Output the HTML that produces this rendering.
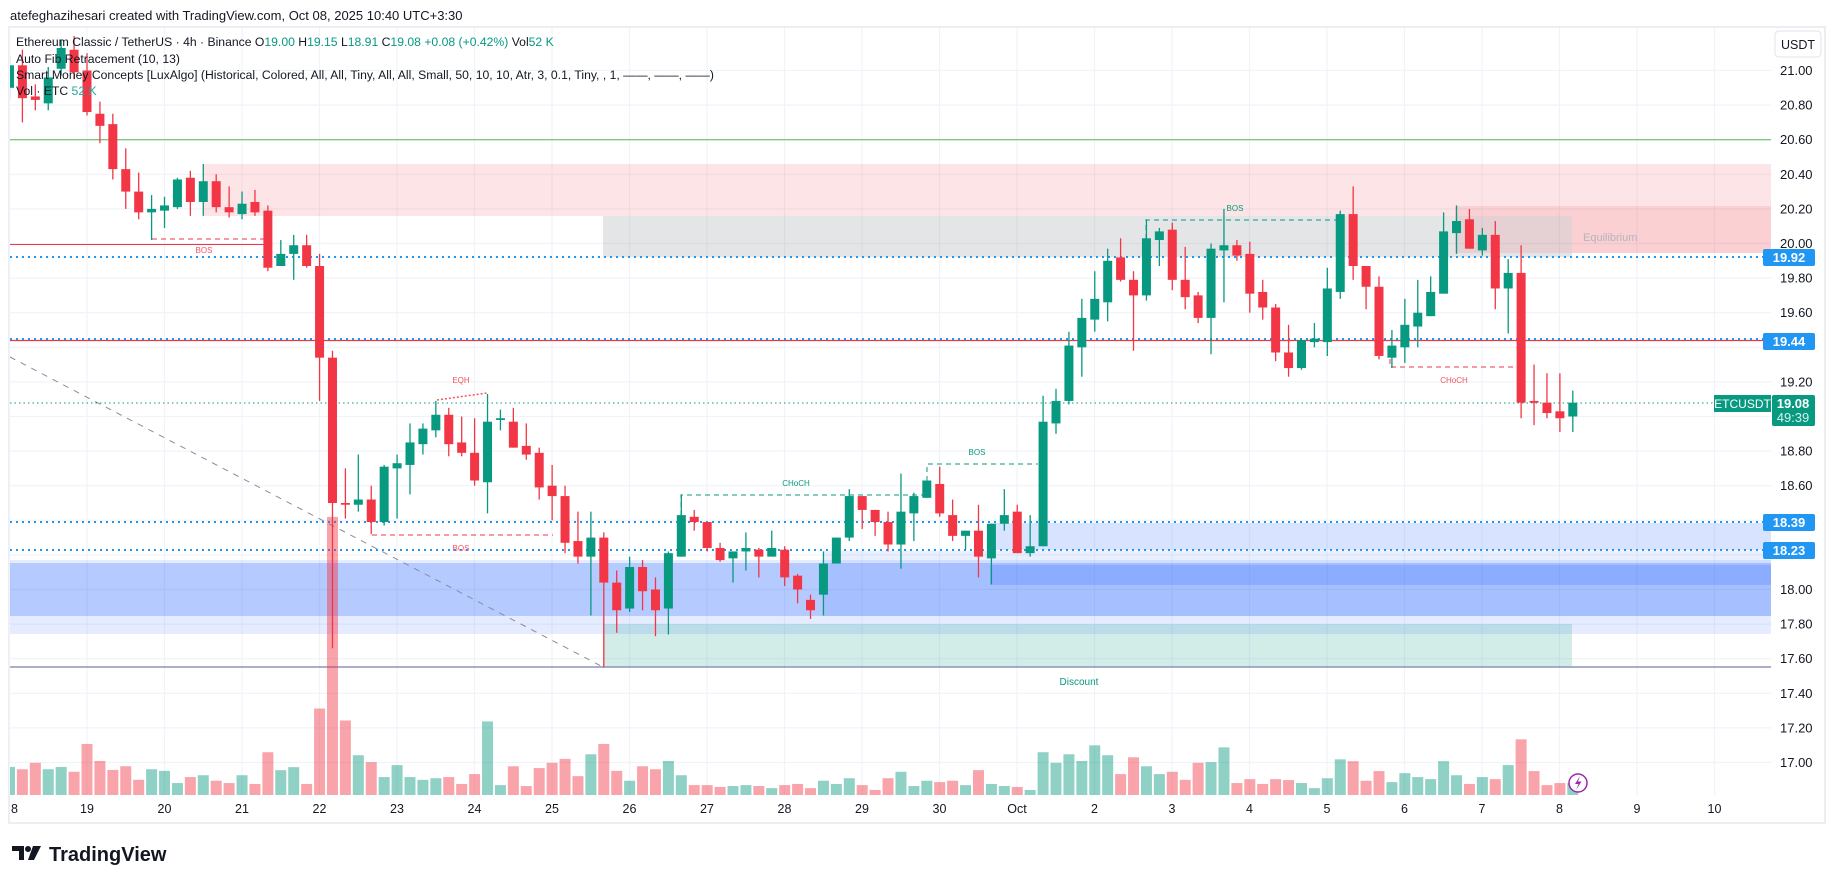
<!DOCTYPE html>
<html><head><meta charset="utf-8"><style>
body{margin:0;background:#fff;width:1835px;height:883px;overflow:hidden;font-family:"Liberation Sans",sans-serif;}
svg{display:block}
text{font-family:"Liberation Sans",sans-serif;}
</style></head><body>
<svg id="chart" width="1835" height="883" viewBox="0 0 1835 883" xmlns="http://www.w3.org/2000/svg">
<defs><clipPath id="plot"><rect x="10" y="28" width="1761" height="767"/></clipPath></defs>
<rect x="0" y="0" width="1835" height="883" fill="#fff"/>
<text x="10" y="20" font-size="13" fill="#131722">atefeghazihesari created with TradingView.com, Oct 08, 2025 10:40 UTC+3:30</text>
<rect x="9" y="27" width="1816" height="796" fill="none" stroke="#eceef2" stroke-width="2"/>
<g id="grid"></g>
<g clip-path="url(#plot)" id="overlays">
  <rect x="203" y="164" width="1568" height="52" fill="rgba(242,54,69,0.13)"/>
  <rect x="603" y="216" width="969" height="41" fill="rgba(120,123,134,0.2)"/>
  <rect x="1572" y="216" width="199" height="37" fill="rgba(242,54,69,0.13)"/>
  <rect x="1455" y="206" width="316" height="47" fill="rgba(242,54,69,0.12)"/>
  <text x="1583" y="241" font-size="11" fill="#b2b5be">Equilibrium</text>
  <line x1="10" y1="139.7" x2="1771" y2="139.7" stroke="#81c784" stroke-width="1.3"/>
  <rect x="603" y="624" width="969" height="43" fill="rgba(8,153,129,0.18)"/>
  <text x="1079" y="685" font-size="10" fill="#089981" text-anchor="middle">Discount</text>
  <rect x="10" y="560" width="1761" height="74" fill="rgba(41,98,255,0.12)"/>
  <rect x="10" y="563" width="1761" height="53" fill="rgba(41,98,255,0.25)"/>
  <rect x="823" y="551" width="948" height="65" fill="rgba(41,98,255,0.1)"/>
  <rect x="990" y="523" width="781" height="27" fill="rgba(41,98,255,0.18)"/>
  <rect x="990" y="565" width="781" height="20" fill="rgba(41,98,255,0.2)"/>
  <line x1="10" y1="667" x2="1771" y2="667" stroke="#8f93b8" stroke-width="1.5"/>
  <line x1="10" y1="357" x2="603" y2="667" stroke="#8a8d96" stroke-width="1" stroke-dasharray="6,6"/>
  <line x1="10" y1="244.5" x2="264" y2="244.5" stroke="#f23645" stroke-width="1"/>
  <line x1="152" y1="239" x2="264" y2="239" stroke="#f23645" stroke-width="1" stroke-dasharray="5,4"/>
  <text x="204" y="253" font-size="8" fill="#f7525f" text-anchor="middle">BOS</text>
  <line x1="10" y1="340.5" x2="1771" y2="340.5" stroke="#f23645" stroke-width="1.2"/>
  <line x1="10" y1="339" x2="1771" y2="339" stroke="#2196f3" stroke-width="2" stroke-dasharray="2,4"/>
  <line x1="10" y1="257" x2="1771" y2="257" stroke="#2196f3" stroke-width="2" stroke-dasharray="2,4"/>
  <line x1="10" y1="522" x2="1771" y2="522" stroke="#2196f3" stroke-width="2" stroke-dasharray="2,4"/>
  <line x1="10" y1="550" x2="1771" y2="550" stroke="#2196f3" stroke-width="2" stroke-dasharray="2,4"/>
  <line x1="10" y1="403" x2="1771" y2="403" stroke="#089981" stroke-width="1" stroke-dasharray="1.5,3"/>
  <line x1="437" y1="400" x2="487" y2="393" stroke="#f7525f" stroke-width="1.5" stroke-dasharray="2,2"/>
  <text x="461" y="383" font-size="8" fill="#f7525f" text-anchor="middle">EQH</text>
  <line x1="372" y1="535" x2="553" y2="535" stroke="#f23645" stroke-width="1" stroke-dasharray="5,4"/>
  <text x="461" y="551" font-size="8" fill="#f7525f" text-anchor="middle">BOS</text>
  <polyline points="681,516 681,495 927,495" fill="none" stroke="#089981" stroke-width="1" stroke-dasharray="5,4"/>
  <text x="796" y="486" font-size="8" fill="#089981" text-anchor="middle">CHoCH</text>
  <polyline points="927,481 927,464 1038,464" fill="none" stroke="#089981" stroke-width="1" stroke-dasharray="5,4"/>
  <text x="977" y="455" font-size="8" fill="#089981" text-anchor="middle">BOS</text>
  <polyline points="1146,239 1146,220 1336,220" fill="none" stroke="#089981" stroke-width="1" stroke-dasharray="5,4"/>
  <text x="1235" y="211" font-size="8" fill="#089981" text-anchor="middle">BOS</text>
  <polyline points="1390,359 1390,367 1519,367" fill="none" stroke="#f23645" stroke-width="1" stroke-dasharray="5,4"/>
  <text x="1454" y="383" font-size="8" fill="#f7525f" text-anchor="middle">CHoCH</text>
  <g id="volumes"></g>
  <g id="candles"></g>
</g>
<g font-size="12.2" fill="#131722">
  <text x="16" y="46">Ethereum Classic / TetherUS · 4h · Binance  O<tspan fill="#089981">19.00</tspan>  H<tspan fill="#089981">19.15</tspan>  L<tspan fill="#089981">18.91</tspan>  C<tspan fill="#089981">19.08</tspan>  <tspan fill="#089981">+0.08 (+0.42%)</tspan>  Vol<tspan fill="#089981">52 K</tspan></text>
  <text x="16" y="63">Auto Fib Retracement (10, 13)</text>
  <text x="16" y="79">Smart Money Concepts [LuxAlgo] (Historical, Colored, All, All, Tiny, All, All, Small, 50, 10, 10, Atr, 3, 0.1, Tiny, , 1, ——, ——, ——)</text>
  <text x="16" y="95">Vol · ETC  <tspan fill="#26a69a">52 K</tspan></text>
</g>
<g id="yaxis"></g>
<rect x="1775" y="31" width="46" height="26" rx="4" fill="#fff" stroke="#e0e3eb"/>
<text x="1798" y="49" font-size="12.5" fill="#131722" text-anchor="middle">USDT</text>
<g font-size="13" font-weight="bold" fill="#fff">
  <rect x="1763" y="249" width="52" height="17" rx="2" fill="#2196f3"/><text x="1789" y="262" text-anchor="middle">19.92</text>
  <rect x="1763" y="333" width="52" height="17" rx="2" fill="#2196f3"/><text x="1789" y="346" text-anchor="middle">19.44</text>
  <rect x="1763" y="514" width="52" height="17" rx="2" fill="#2196f3"/><text x="1789" y="527" text-anchor="middle">18.39</text>
  <rect x="1763" y="542" width="52" height="17" rx="2" fill="#2196f3"/><text x="1789" y="555" text-anchor="middle">18.23</text>
  <rect x="1714" y="395" width="57" height="17" fill="#089981"/><text x="1742.5" y="408" text-anchor="middle" font-weight="normal" font-size="12">ETCUSDT</text>
  <rect x="1772" y="395" width="43" height="31" rx="2" fill="#089981"/><text x="1793" y="408" text-anchor="middle">19.08</text><text x="1793" y="422" text-anchor="middle" font-weight="normal" fill="#d6f0ea">49:39</text>
</g>
<g id="xaxis"></g>
<g><circle cx="1578" cy="783" r="9" fill="#fff" stroke="#9c27b0" stroke-width="1.5"/><path d="M1580 776 L1575 784 L1578.5 784 L1576 790 L1581.5 781.5 L1578 781.5 Z" fill="#9c27b0"/></g>
<g>
  <path d="M12 846 H24 V860 H19 V851 H12 Z" fill="#131722"/><circle cx="28" cy="849" r="3" fill="#131722"/><path d="M33 846 H41 L34 860 H28 Z" fill="#131722"/>
  <text x="49" y="861" font-size="20" font-weight="bold" fill="#131722">TradingView</text>
</g>
</svg>
<script>
const opens=[20.90,21.03,20.85,20.81,21.01,21.12,21.00,20.75,20.69,20.43,20.30,20.18,20.19,20.21,20.38,20.24,20.36,20.21,20.17,20.24,20.19,19.87,19.94,19.99,19.87,19.34,18.50,18.49,18.52,18.39,18.70,18.72,18.84,18.92,19.01,18.85,18.79,18.62,18.98,18.97,18.83,18.79,18.60,18.54,18.28,18.19,18.30,18.04,17.89,18.13,18.00,17.89,18.19,18.42,18.39,18.24,18.18,18.22,18.23,18.19,18.23,18.08,17.94,17.97,18.15,18.30,18.54,18.46,18.39,18.26,18.44,18.53,18.61,18.43,18.31,18.34,18.18,18.38,18.45,18.21,18.25,18.96,19.09,19.40,19.56,19.66,19.92,19.79,19.70,20.02,20.08,19.79,19.70,19.57,19.96,19.99,19.94,19.72,19.63,19.37,19.28,19.43,19.43,19.72,20.17,19.87,19.75,19.34,19.40,19.52,19.58,19.71,20.06,20.14,19.96,20.05,19.74,19.83,19.09,19.08,19.03,19.00];
const highs=[21.08,21.12,20.92,21.02,21.18,21.20,21.10,20.82,20.75,20.55,20.41,20.28,20.27,20.38,20.42,20.46,20.40,20.33,20.30,20.31,20.22,20.02,20.05,20.05,19.94,19.38,18.70,18.78,18.60,18.72,18.78,18.96,18.96,19.09,19.05,19.00,18.99,19.13,19.04,19.05,18.96,18.82,18.72,18.60,18.45,18.45,18.33,18.11,18.19,18.17,18.07,18.22,18.55,18.46,18.39,18.27,18.22,18.33,18.24,18.34,18.25,18.09,17.97,18.22,18.30,18.58,18.54,18.46,18.45,18.67,18.56,18.63,18.71,18.52,18.34,18.49,18.38,18.58,18.49,18.43,19.12,19.16,19.49,19.68,19.84,19.97,20.03,19.84,20.14,20.09,20.12,19.98,19.72,20.00,20.20,20.02,20.01,19.79,19.65,19.53,19.45,19.54,19.86,20.19,20.33,19.87,19.81,19.50,19.68,19.79,19.81,20.18,20.22,20.20,20.09,20.13,19.91,19.99,19.30,19.25,19.25,19.15];
const lows=[20.83,20.70,20.77,20.77,20.97,20.95,20.74,20.58,20.37,20.20,20.14,20.02,20.09,20.20,20.16,20.16,20.18,20.15,20.14,20.16,19.84,19.87,19.79,19.86,19.09,17.66,18.41,18.45,18.32,18.37,18.41,18.55,18.78,18.88,18.77,18.77,18.60,18.44,18.92,18.82,18.75,18.52,18.40,18.21,18.15,17.85,17.55,17.75,17.87,17.88,17.73,17.74,18.19,18.34,18.22,18.16,18.04,18.11,18.07,18.19,18.02,17.92,17.83,17.85,18.15,18.28,18.35,18.31,18.22,18.12,18.28,18.53,18.42,18.28,18.23,18.07,18.03,18.34,18.21,18.19,18.25,18.90,19.07,19.23,19.49,19.55,19.78,19.38,19.67,19.87,19.73,19.62,19.54,19.36,19.66,19.90,19.60,19.56,19.32,19.23,19.27,19.40,19.35,19.68,19.79,19.62,19.33,19.28,19.31,19.40,19.58,19.71,19.94,19.97,19.93,19.62,19.48,18.99,18.95,18.99,18.91,18.91];
const closes=[21.03,20.84,20.83,20.96,21.13,20.99,20.76,20.68,20.43,20.30,20.18,20.20,20.22,20.37,20.24,20.36,20.21,20.18,20.23,20.18,19.86,19.94,19.99,19.87,19.34,18.50,18.49,18.52,18.39,18.71,18.73,18.85,18.93,19.01,18.84,18.79,18.63,18.97,18.99,18.82,18.78,18.59,18.54,18.27,18.19,18.30,18.04,17.88,18.13,17.99,17.88,18.21,18.43,18.39,18.24,18.17,18.22,18.24,18.19,18.24,18.07,18.00,17.88,18.15,18.30,18.54,18.46,18.39,18.26,18.45,18.54,18.63,18.44,18.31,18.34,18.19,18.38,18.43,18.21,18.25,18.97,19.09,19.41,19.57,19.68,19.90,19.79,19.70,20.03,20.07,19.79,19.69,19.57,19.97,19.99,19.93,19.71,19.63,19.37,19.28,19.44,19.45,19.74,20.17,19.87,19.75,19.35,19.41,19.53,19.60,19.72,20.07,20.13,19.97,20.05,19.74,19.83,19.08,19.08,19.02,18.99,19.08];
const volumes=[122,112,140,112,122,101,222,148,109,125,66,112,105,52,78,86,62,52,86,48,186,108,121,48,376,1209,324,173,143,78,130,78,66,73,78,48,91,320,43,125,39,117,140,157,82,177,222,105,62,125,112,148,86,43,43,35,39,43,39,30,43,48,30,62,48,73,43,22,73,101,39,62,56,62,43,108,48,39,35,22,186,140,177,148,216,173,91,164,125,91,101,66,140,143,207,52,69,48,69,65,52,30,73,155,147,62,104,56,95,78,69,147,86,48,78,69,130,242,104,43,52,52];
const firstIndex=-6;
const priceTicks=[21.00,20.80,20.60,20.40,20.20,20.00,19.80,19.60,19.20,18.80,18.60,18.00,17.80,17.60,17.40,17.20,17.00];
const gridPrices=[21.00,20.80,20.60,20.40,20.20,20.00,19.80,19.60,19.40,19.20,19.00,18.80,18.60,18.40,18.20,18.00,17.80,17.60,17.40,17.20,17.00];
const dayLabels=["8","19","20","21","22","23","24","25","26","27","28","29","30","Oct","2","3","4","5","6","7","8","9","10"];
const dayOffsets=[-1,0,1,2,3,4,5,6,7,8,9,10,11,12,13,14,15,16,17,18,19,20,21];

const NS="http://www.w3.org/2000/svg";
const X0=87, CW=12.92, DAYW=77.5;
function xScale(k){return X0+CW*k;}
function yScale(p){return 243.5+(20-p)*173;}
function vScale(v){return v*0.23;}
const VBASE=795;
function mk(tag,attrs,parent){const e=document.createElementNS(NS,tag);for(const k in attrs)e.setAttribute(k,attrs[k]);parent.appendChild(e);return e;}

const grid=document.getElementById('grid');
gridPrices.forEach(p=>{
  const l=mk('line',{x1:10,x2:1771,y1:yScale(p),y2:yScale(p),stroke:'#f0f3fa','stroke-width':1.2},grid);
  
  
});
dayOffsets.forEach(d=>{
  const x=X0+DAYW*d;
  const l=mk('line',{x1:x,x2:x,y1:28,y2:795,stroke:'#f0f3fa','stroke-width':1.2},grid);
  
  
});

const vg=document.getElementById('volumes');
volumes.forEach((v,i)=>{
  const k=i+firstIndex, up=closes[i]>=opens[i];
  const h=vScale(v);
  const r=mk('rect',{x:xScale(k)-5.5,y:VBASE-h,width:11,height:h,fill:up?'rgba(8,153,129,0.45)':'rgba(242,54,69,0.45)'},vg);
  
  
});

const cg=document.getElementById('candles');
opens.forEach((o,i)=>{
  const k=i+firstIndex, c=closes[i], up=c>=o, col=up?'#089981':'#f23645', x=xScale(k);
  const g=mk('g',{},cg);
  
  
  mk('line',{x1:x,x2:x,y1:yScale(highs[i]),y2:yScale(lows[i]),stroke:col,'stroke-width':1.3},g);
  const top=yScale(Math.max(o,c)), bot=yScale(Math.min(o,c));
  mk('rect',{x:x-4.5,y:top,width:9,height:Math.max(1.2,bot-top),fill:col},g);
});

const ya=document.getElementById('yaxis');
priceTicks.forEach(p=>{
  const t=mk('text',{x:1780,y:yScale(p)+4.5,'font-size':13,fill:'#131722'},ya);
  t.textContent=p.toFixed(2);
  
  
});
const xa=document.getElementById('xaxis');
dayLabels.forEach((lab,i)=>{
  const x=X0+DAYW*dayOffsets[i];
  const t=mk('text',{x:Math.max(x,11),y:813,'font-size':12.5,fill:'#131722','text-anchor':i===0?'start':'middle'},xa);
  t.textContent=lab;
  
  
});
</script>
</body></html>
